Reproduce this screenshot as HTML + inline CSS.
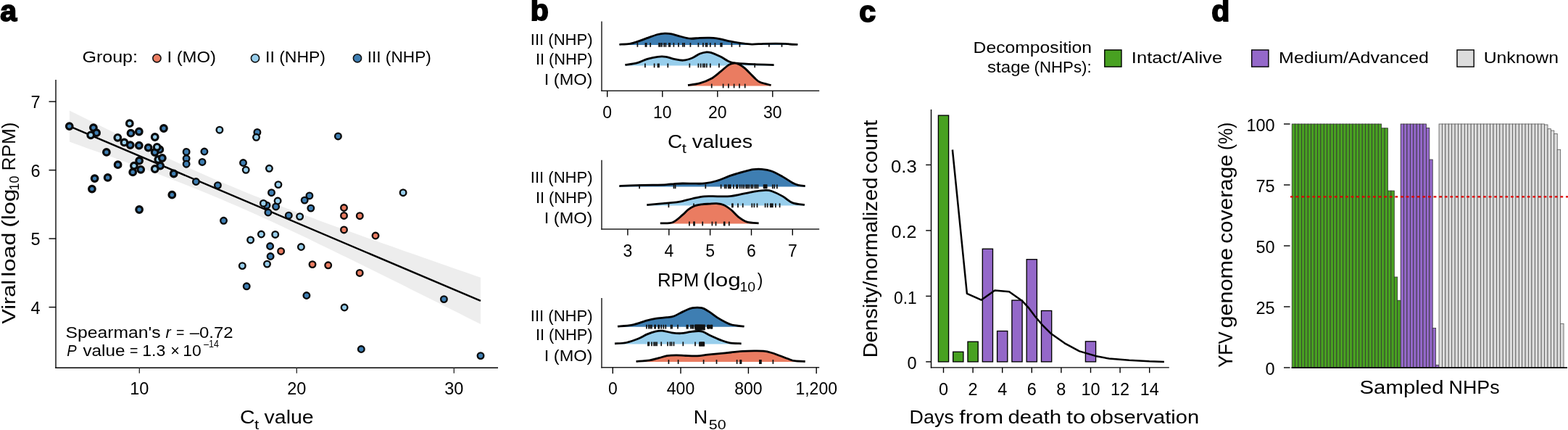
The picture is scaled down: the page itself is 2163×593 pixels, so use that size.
<!DOCTYPE html>
<html><head><meta charset="utf-8"><style>
html,body{margin:0;padding:0;background:#fff;width:2163px;height:593px;overflow:hidden}
svg{display:block}
text{font-family:"Liberation Sans", Arial, sans-serif;fill:#000}
</style></head><body>
<svg width="2163" height="593" viewBox="0 0 2163 593">
<text x="0.3" y="29.2" font-size="41" text-anchor="start" font-weight="bold" stroke="#000" stroke-width="1.9">a</text>
<text x="731.8" y="28.2" font-size="41" text-anchor="start" font-weight="bold" stroke="#000" stroke-width="1.9">b</text>
<text x="1185.2" y="29.8" font-size="41" text-anchor="start" font-weight="bold" stroke="#000" stroke-width="1.9">c</text>
<text x="1671.2" y="28.9" font-size="41" text-anchor="start" font-weight="bold" stroke="#000" stroke-width="1.9">d</text>
<text x="113.4" y="86.0" font-size="22.5" textLength="76.6" lengthAdjust="spacingAndGlyphs">Group:</text>
<circle cx="216.4" cy="80.3" r="5.6" fill="#ea7c61" stroke="#111" stroke-width="1.6"/>
<text x="230.4" y="86.0" font-size="22.5" textLength="67.5" lengthAdjust="spacingAndGlyphs">I (MO)</text>
<circle cx="352" cy="80.3" r="5.6" fill="#97ceec" stroke="#111" stroke-width="1.6"/>
<text x="366.0" y="86.0" font-size="22.5" textLength="83.0" lengthAdjust="spacingAndGlyphs">II (NHP)</text>
<circle cx="493" cy="80.3" r="5.6" fill="#3e7eb2" stroke="#111" stroke-width="1.6"/>
<text x="506.7" y="86.0" font-size="22.5" textLength="88.1" lengthAdjust="spacingAndGlyphs">III (NHP)</text>
<line x1="77.0" y1="110.0" x2="77.0" y2="507.8" stroke="#333" stroke-width="1.7" />
<line x1="76.2" y1="507.2" x2="687.0" y2="507.2" stroke="#000" stroke-width="1.4" />
<line x1="67.5" y1="423.6" x2="77.2" y2="423.6" stroke="#000" stroke-width="1.4" />
<text x="55.6" y="432.5" font-size="23.5" text-anchor="end" >4</text>
<line x1="67.5" y1="329.1" x2="77.2" y2="329.1" stroke="#000" stroke-width="1.4" />
<text x="55.6" y="338.0" font-size="23.5" text-anchor="end" >5</text>
<line x1="67.5" y1="234.6" x2="77.2" y2="234.6" stroke="#000" stroke-width="1.4" />
<text x="55.6" y="243.5" font-size="23.5" text-anchor="end" >6</text>
<line x1="67.5" y1="140.1" x2="77.2" y2="140.1" stroke="#000" stroke-width="1.4" />
<text x="55.6" y="149.0" font-size="23.5" text-anchor="end" >7</text>
<line x1="192.3" y1="507.2" x2="192.3" y2="514.7" stroke="#333" stroke-width="1.4" />
<text x="192.3" y="544.3" font-size="23.5" text-anchor="middle" >10</text>
<line x1="409.3" y1="507.2" x2="409.3" y2="514.7" stroke="#333" stroke-width="1.4" />
<text x="409.3" y="544.3" font-size="23.5" text-anchor="middle" >20</text>
<line x1="626.3" y1="507.2" x2="626.3" y2="514.7" stroke="#333" stroke-width="1.4" />
<text x="626.3" y="544.3" font-size="23.5" text-anchor="middle" >30</text>
<text x="-446.8" y="21.2" font-size="26.5" transform="rotate(-90)" textLength="61.0" lengthAdjust="spacingAndGlyphs">Viral</text>
<text x="-381.8" y="21.2" font-size="26.5" transform="rotate(-90)" textLength="61.3" lengthAdjust="spacingAndGlyphs">load</text>
<text x="-313.8" y="21.2" font-size="26.5" transform="rotate(-90)" textLength="53.2" lengthAdjust="spacingAndGlyphs">(log</text>
<text x="-262.4" y="26.0" font-size="18" transform="rotate(-90)" textLength="19.9" lengthAdjust="spacingAndGlyphs">10</text>
<text x="-235.6" y="21.2" font-size="26.5" transform="rotate(-90)" textLength="67.1" lengthAdjust="spacingAndGlyphs">RPM)</text>
<text x="330.9" y="584.0" font-size="26.5" textLength="20.6" lengthAdjust="spacingAndGlyphs">C</text>
<text x="351.0" y="591.6" font-size="18" textLength="6.3" lengthAdjust="spacingAndGlyphs">t</text>
<text x="364.6" y="583.8" font-size="26.5" textLength="68.0" lengthAdjust="spacingAndGlyphs">value</text>
<path d="M95.9,152.6 L105.5,157.3 L115.1,162.1 L124.7,166.8 L134.3,171.5 L144.0,176.2 L153.6,180.9 L163.2,185.6 L172.8,190.3 L182.4,194.9 L192.0,199.5 L201.6,204.1 L211.2,208.7 L220.9,213.2 L230.5,217.7 L240.1,222.1 L249.7,226.5 L259.3,230.9 L268.9,235.2 L278.5,239.5 L288.1,243.7 L297.7,247.9 L307.4,252.0 L317.0,256.1 L326.6,260.1 L336.2,264.0 L345.8,267.9 L355.4,271.8 L365.0,275.6 L374.6,279.4 L384.3,283.1 L393.9,286.7 L403.5,290.4 L413.1,294.0 L422.7,297.6 L432.3,301.1 L441.9,304.7 L451.5,308.2 L461.2,311.7 L470.8,315.2 L480.4,318.6 L490.0,322.1 L499.6,325.5 L509.2,328.9 L518.8,332.3 L528.4,335.7 L538.0,339.1 L547.7,342.5 L557.3,345.9 L566.9,349.3 L576.5,352.6 L586.1,356.0 L595.7,359.3 L605.3,362.7 L614.9,366.0 L624.6,369.4 L634.2,372.7 L643.8,376.0 L653.4,379.4 L663.0,382.7 L663.0,447.1 L653.4,442.3 L643.8,437.4 L634.2,432.6 L624.6,427.8 L614.9,423.0 L605.3,418.1 L595.7,413.3 L586.1,408.5 L576.5,403.7 L566.9,398.9 L557.3,394.1 L547.7,389.3 L538.0,384.6 L528.4,379.8 L518.8,375.0 L509.2,370.3 L499.6,365.5 L490.0,360.8 L480.4,356.1 L470.8,351.4 L461.2,346.7 L451.5,342.0 L441.9,337.4 L432.3,332.8 L422.7,328.1 L413.1,323.6 L403.5,319.0 L393.9,314.5 L384.3,310.0 L374.6,305.6 L365.0,301.2 L355.4,296.8 L345.8,292.5 L336.2,288.2 L326.6,284.0 L317.0,279.9 L307.4,275.7 L297.7,271.7 L288.1,267.7 L278.5,263.8 L268.9,259.9 L259.3,256.0 L249.7,252.3 L240.1,248.5 L230.5,244.8 L220.9,241.1 L211.2,237.5 L201.6,233.9 L192.0,230.3 L182.4,226.8 L172.8,223.2 L163.2,219.7 L153.6,216.2 L144.0,212.8 L134.3,209.3 L124.7,205.9 L115.1,202.4 L105.5,199.0 L95.9,195.6 Z" fill="#ededed"/>
<line x1="95.9" y1="174.1" x2="663.0" y2="414.9" stroke="#000" stroke-width="2.4" />
<circle cx="95.7" cy="174.1" r="4.3" fill="#3e7eb2" stroke="#0a0a0a" stroke-width="3.2"/>
<circle cx="128.9" cy="176.1" r="4.3" fill="#3e7eb2" stroke="#0a0a0a" stroke-width="3.2"/>
<circle cx="133.1" cy="183.2" r="4.3" fill="#3e7eb2" stroke="#0a0a0a" stroke-width="3.2"/>
<circle cx="125.2" cy="186.3" r="4.3" fill="#97ceec" stroke="#0a0a0a" stroke-width="3.2"/>
<circle cx="178.8" cy="170.2" r="4.3" fill="#97ceec" stroke="#0a0a0a" stroke-width="3.2"/>
<circle cx="180.5" cy="183.7" r="4.3" fill="#3e7eb2" stroke="#0a0a0a" stroke-width="3.2"/>
<circle cx="191.8" cy="181.5" r="4.3" fill="#3e7eb2" stroke="#0a0a0a" stroke-width="3.2"/>
<circle cx="225.9" cy="177.0" r="4.3" fill="#3e7eb2" stroke="#0a0a0a" stroke-width="3.2"/>
<circle cx="162.3" cy="189.8" r="4.3" fill="#97ceec" stroke="#0a0a0a" stroke-width="3.2"/>
<circle cx="213.7" cy="189.0" r="4.3" fill="#97ceec" stroke="#0a0a0a" stroke-width="3.2"/>
<circle cx="171.4" cy="196.4" r="4.3" fill="#97ceec" stroke="#0a0a0a" stroke-width="3.2"/>
<circle cx="179.7" cy="200.1" r="4.3" fill="#3e7eb2" stroke="#0a0a0a" stroke-width="3.2"/>
<circle cx="191.8" cy="200.6" r="4.3" fill="#3e7eb2" stroke="#0a0a0a" stroke-width="3.2"/>
<circle cx="204.6" cy="203.6" r="4.3" fill="#3e7eb2" stroke="#0a0a0a" stroke-width="3.2"/>
<circle cx="220.3" cy="206.2" r="4.3" fill="#3e7eb2" stroke="#0a0a0a" stroke-width="3.2"/>
<circle cx="213.6" cy="210.0" r="4.3" fill="#3e7eb2" stroke="#0a0a0a" stroke-width="3.2"/>
<circle cx="216.6" cy="202.8" r="4.3" fill="#97ceec" stroke="#0a0a0a" stroke-width="3.2"/>
<circle cx="146.9" cy="209.9" r="4.3" fill="#3e7eb2" stroke="#0a0a0a" stroke-width="3.2"/>
<circle cx="218.3" cy="220.0" r="4.3" fill="#97ceec" stroke="#0a0a0a" stroke-width="3.2"/>
<circle cx="223.8" cy="218.0" r="4.3" fill="#3e7eb2" stroke="#0a0a0a" stroke-width="3.2"/>
<circle cx="192.1" cy="221.7" r="4.3" fill="#3e7eb2" stroke="#0a0a0a" stroke-width="3.2"/>
<circle cx="162.6" cy="227.2" r="4.3" fill="#3e7eb2" stroke="#0a0a0a" stroke-width="3.2"/>
<circle cx="184.9" cy="228.6" r="4.3" fill="#97ceec" stroke="#0a0a0a" stroke-width="3.2"/>
<circle cx="194.2" cy="233.8" r="4.3" fill="#3e7eb2" stroke="#0a0a0a" stroke-width="3.2"/>
<circle cx="183.2" cy="237.4" r="4.3" fill="#3e7eb2" stroke="#0a0a0a" stroke-width="3.2"/>
<circle cx="221.1" cy="228.6" r="4.3" fill="#3e7eb2" stroke="#0a0a0a" stroke-width="3.2"/>
<circle cx="213.7" cy="233.0" r="4.3" fill="#97ceec" stroke="#0a0a0a" stroke-width="3.2"/>
<circle cx="239.7" cy="239.5" r="4.3" fill="#3e7eb2" stroke="#0a0a0a" stroke-width="3.2"/>
<circle cx="257.1" cy="209.4" r="4.3" fill="#3e7eb2" stroke="#0a0a0a" stroke-width="2.35"/>
<circle cx="257.1" cy="218.6" r="4.3" fill="#3e7eb2" stroke="#0a0a0a" stroke-width="2.35"/>
<circle cx="257.1" cy="226.2" r="4.3" fill="#3e7eb2" stroke="#0a0a0a" stroke-width="2.35"/>
<circle cx="281.9" cy="209.0" r="4.3" fill="#3e7eb2" stroke="#0a0a0a" stroke-width="2.35"/>
<circle cx="279.0" cy="223.4" r="4.3" fill="#3e7eb2" stroke="#0a0a0a" stroke-width="2.35"/>
<circle cx="302.9" cy="179.2" r="4.3" fill="#97ceec" stroke="#0a0a0a" stroke-width="2.35"/>
<circle cx="354.9" cy="182.4" r="4.3" fill="#3e7eb2" stroke="#0a0a0a" stroke-width="2.35"/>
<circle cx="353.5" cy="189.3" r="4.3" fill="#97ceec" stroke="#0a0a0a" stroke-width="2.35"/>
<circle cx="335.5" cy="224.5" r="4.3" fill="#3e7eb2" stroke="#0a0a0a" stroke-width="2.35"/>
<circle cx="339.2" cy="234.3" r="4.3" fill="#97ceec" stroke="#0a0a0a" stroke-width="2.35"/>
<circle cx="371.4" cy="232.3" r="4.3" fill="#97ceec" stroke="#0a0a0a" stroke-width="2.35"/>
<circle cx="130.6" cy="246.1" r="4.3" fill="#3e7eb2" stroke="#0a0a0a" stroke-width="3.2"/>
<circle cx="148.6" cy="244.9" r="4.3" fill="#3e7eb2" stroke="#0a0a0a" stroke-width="3.2"/>
<circle cx="270.4" cy="250.5" r="4.3" fill="#3e7eb2" stroke="#0a0a0a" stroke-width="2.35"/>
<circle cx="466.4" cy="187.9" r="4.3" fill="#3e7eb2" stroke="#0a0a0a" stroke-width="2.35"/>
<circle cx="126.9" cy="260.6" r="4.3" fill="#3e7eb2" stroke="#0a0a0a" stroke-width="3.2"/>
<circle cx="237.3" cy="268.7" r="4.3" fill="#3e7eb2" stroke="#0a0a0a" stroke-width="3.2"/>
<circle cx="192.1" cy="289.0" r="4.3" fill="#3e7eb2" stroke="#0a0a0a" stroke-width="3.2"/>
<circle cx="300.4" cy="255.6" r="4.3" fill="#3e7eb2" stroke="#0a0a0a" stroke-width="2.35"/>
<circle cx="308.5" cy="304.3" r="4.3" fill="#3e7eb2" stroke="#0a0a0a" stroke-width="2.35"/>
<circle cx="374.5" cy="265.7" r="4.3" fill="#3e7eb2" stroke="#0a0a0a" stroke-width="2.35"/>
<circle cx="368.0" cy="283.2" r="4.3" fill="#3e7eb2" stroke="#0a0a0a" stroke-width="2.35"/>
<circle cx="363.4" cy="280.4" r="4.3" fill="#97ceec" stroke="#0a0a0a" stroke-width="2.35"/>
<circle cx="369.9" cy="293.0" r="4.3" fill="#3e7eb2" stroke="#0a0a0a" stroke-width="2.35"/>
<circle cx="360.4" cy="323.0" r="4.3" fill="#97ceec" stroke="#0a0a0a" stroke-width="2.35"/>
<circle cx="345.6" cy="330.9" r="4.3" fill="#97ceec" stroke="#0a0a0a" stroke-width="2.35"/>
<circle cx="372.6" cy="339.5" r="4.3" fill="#3e7eb2" stroke="#0a0a0a" stroke-width="2.35"/>
<circle cx="383.9" cy="254.6" r="4.3" fill="#97ceec" stroke="#0a0a0a" stroke-width="2.35"/>
<circle cx="380.6" cy="284.9" r="4.3" fill="#3e7eb2" stroke="#0a0a0a" stroke-width="2.35"/>
<circle cx="383.1" cy="277.0" r="4.3" fill="#97ceec" stroke="#0a0a0a" stroke-width="2.35"/>
<circle cx="426.9" cy="269.9" r="4.3" fill="#3e7eb2" stroke="#0a0a0a" stroke-width="2.35"/>
<circle cx="420.2" cy="276.1" r="4.3" fill="#3e7eb2" stroke="#0a0a0a" stroke-width="2.35"/>
<circle cx="428.8" cy="287.1" r="4.3" fill="#3e7eb2" stroke="#0a0a0a" stroke-width="2.35"/>
<circle cx="398.3" cy="297.2" r="4.3" fill="#3e7eb2" stroke="#0a0a0a" stroke-width="2.35"/>
<circle cx="413.6" cy="298.6" r="4.3" fill="#97ceec" stroke="#0a0a0a" stroke-width="2.35"/>
<circle cx="556.1" cy="265.7" r="4.3" fill="#97ceec" stroke="#0a0a0a" stroke-width="2.35"/>
<circle cx="474.5" cy="286.5" r="4.3" fill="#ea7c61" stroke="#0a0a0a" stroke-width="2.35"/>
<circle cx="474.5" cy="297.4" r="4.3" fill="#ea7c61" stroke="#0a0a0a" stroke-width="2.35"/>
<circle cx="496.3" cy="297.7" r="4.3" fill="#ea7c61" stroke="#0a0a0a" stroke-width="2.35"/>
<circle cx="474.5" cy="316.9" r="4.3" fill="#ea7c61" stroke="#0a0a0a" stroke-width="2.35"/>
<circle cx="518.0" cy="325.0" r="4.3" fill="#ea7c61" stroke="#0a0a0a" stroke-width="2.35"/>
<circle cx="379.7" cy="323.4" r="4.3" fill="#97ceec" stroke="#0a0a0a" stroke-width="2.35"/>
<circle cx="415.4" cy="340.5" r="4.3" fill="#97ceec" stroke="#0a0a0a" stroke-width="2.35"/>
<circle cx="387.6" cy="346.4" r="4.3" fill="#ea7c61" stroke="#0a0a0a" stroke-width="2.35"/>
<circle cx="373.1" cy="353.5" r="4.3" fill="#3e7eb2" stroke="#0a0a0a" stroke-width="2.35"/>
<circle cx="368.5" cy="364.1" r="4.3" fill="#97ceec" stroke="#0a0a0a" stroke-width="2.35"/>
<circle cx="334.3" cy="366.6" r="4.3" fill="#97ceec" stroke="#0a0a0a" stroke-width="2.35"/>
<circle cx="431.0" cy="364.6" r="4.3" fill="#ea7c61" stroke="#0a0a0a" stroke-width="2.35"/>
<circle cx="452.7" cy="365.8" r="4.3" fill="#ea7c61" stroke="#0a0a0a" stroke-width="2.35"/>
<circle cx="496.2" cy="376.4" r="4.3" fill="#ea7c61" stroke="#0a0a0a" stroke-width="2.35"/>
<circle cx="340.2" cy="394.8" r="4.3" fill="#3e7eb2" stroke="#0a0a0a" stroke-width="2.35"/>
<circle cx="422.9" cy="407.5" r="4.3" fill="#3e7eb2" stroke="#0a0a0a" stroke-width="2.35"/>
<circle cx="475.1" cy="424.0" r="4.3" fill="#97ceec" stroke="#0a0a0a" stroke-width="2.35"/>
<circle cx="612.4" cy="412.6" r="4.3" fill="#3e7eb2" stroke="#0a0a0a" stroke-width="2.35"/>
<circle cx="498.3" cy="481.5" r="4.3" fill="#3e7eb2" stroke="#0a0a0a" stroke-width="2.35"/>
<circle cx="663.0" cy="490.6" r="4.3" fill="#3e7eb2" stroke="#0a0a0a" stroke-width="2.35"/>
<text x="90.6" y="465.6" font-size="22" textLength="130.9" lengthAdjust="spacingAndGlyphs">Spearman's</text>
<text x="228.4" y="465.6" font-size="22" font-style="italic" textLength="7.2" lengthAdjust="spacingAndGlyphs">r</text>
<text x="242.9" y="465.6" font-size="22" textLength="11.4" lengthAdjust="spacingAndGlyphs">=</text>
<text x="261.7" y="465.6" font-size="22" textLength="59.9" lengthAdjust="spacingAndGlyphs">–0.72</text>
<text x="92.2" y="490.6" font-size="22" font-style="italic" textLength="13.4" lengthAdjust="spacingAndGlyphs">P</text>
<text x="114.4" y="490.6" font-size="22" textLength="58.0" lengthAdjust="spacingAndGlyphs">value</text>
<text x="179.1" y="490.6" font-size="22" textLength="11.4" lengthAdjust="spacingAndGlyphs">=</text>
<text x="196.2" y="490.6" font-size="22" textLength="32.0" lengthAdjust="spacingAndGlyphs">1.3</text>
<text x="235.2" y="490.6" font-size="22" textLength="12.6" lengthAdjust="spacingAndGlyphs">×</text>
<text x="252.2" y="490.6" font-size="22" textLength="25.4" lengthAdjust="spacingAndGlyphs">10</text>
<text x="281.1" y="479.3" font-size="14.5" textLength="20.8" lengthAdjust="spacingAndGlyphs">–14</text>
<line x1="830.0" y1="29.6" x2="830.0" y2="125.9" stroke="#222" stroke-width="1.5" />
<line x1="829.3" y1="125.2" x2="1130.2" y2="125.2" stroke="#222" stroke-width="1.5" />
<line x1="837.7" y1="125.2" x2="837.7" y2="133.7" stroke="#000" stroke-width="1.4" />
<text x="837.7" y="163.4" font-size="23" text-anchor="middle" >0</text>
<line x1="913.8" y1="125.2" x2="913.8" y2="133.7" stroke="#000" stroke-width="1.4" />
<text x="913.8" y="163.4" font-size="23" text-anchor="middle" >10</text>
<line x1="989.8" y1="125.2" x2="989.8" y2="133.7" stroke="#000" stroke-width="1.4" />
<text x="989.8" y="163.4" font-size="23" text-anchor="middle" >20</text>
<line x1="1065.8" y1="125.2" x2="1065.8" y2="133.7" stroke="#000" stroke-width="1.4" />
<text x="1065.8" y="163.4" font-size="23" text-anchor="middle" >30</text>
<text x="731.8" y="61.8" font-size="22" textLength="85.8" lengthAdjust="spacingAndGlyphs">III (NHP)</text>
<text x="738.9" y="89.3" font-size="22" textLength="78.6" lengthAdjust="spacingAndGlyphs">II (NHP)</text>
<text x="750.8" y="117.2" font-size="22" textLength="66.5" lengthAdjust="spacingAndGlyphs">I (MO)</text>
<path d="M854.40,61.30 C856.80,61.15 864.52,61.08 868.80,60.40 C873.08,59.72 876.08,58.53 880.10,57.20 C884.12,55.87 888.37,54.02 892.90,52.40 C897.43,50.78 903.30,48.53 907.30,47.50 C911.30,46.47 913.70,46.30 916.90,46.20 C920.10,46.10 922.75,46.18 926.50,46.90 C930.25,47.62 935.12,49.45 939.40,50.50 C943.68,51.55 947.93,52.90 952.20,53.20 C956.47,53.50 961.03,52.48 965.00,52.30 C968.97,52.12 972.80,52.10 976.00,52.10 C979.20,52.10 981.23,52.00 984.20,52.30 C987.17,52.60 989.78,53.08 993.80,53.90 C997.82,54.72 1003.48,56.25 1008.30,57.20 C1013.12,58.15 1017.90,58.95 1022.70,59.60 C1027.50,60.25 1032.03,60.98 1037.10,61.10 C1042.17,61.22 1047.62,60.47 1053.10,60.30 C1058.58,60.13 1064.92,60.10 1070.00,60.10 C1075.08,60.10 1080.27,60.15 1083.60,60.30 C1086.93,60.45 1087.20,60.82 1090.00,61.00 C1092.80,61.18 1098.67,61.33 1100.40,61.40 L1100.40,62.00 L854.40,62.00 Z" fill="#3e7eb2"/>
<line x1="879.4" y1="59.0" x2="879.4" y2="64.8" stroke="#111" stroke-width="1.7" />
<line x1="890.4" y1="59.0" x2="890.4" y2="64.8" stroke="#111" stroke-width="1.7" />
<line x1="891.7" y1="59.0" x2="891.7" y2="64.8" stroke="#111" stroke-width="1.7" />
<line x1="897.2" y1="59.0" x2="897.2" y2="64.8" stroke="#111" stroke-width="1.7" />
<line x1="909.0" y1="59.0" x2="909.0" y2="64.8" stroke="#111" stroke-width="1.7" />
<line x1="910.7" y1="59.0" x2="910.7" y2="64.8" stroke="#111" stroke-width="1.7" />
<line x1="912.9" y1="59.0" x2="912.9" y2="64.8" stroke="#111" stroke-width="1.7" />
<line x1="916.2" y1="59.0" x2="916.2" y2="64.8" stroke="#111" stroke-width="1.7" />
<line x1="918.4" y1="59.0" x2="918.4" y2="64.8" stroke="#111" stroke-width="1.7" />
<line x1="922.8" y1="59.0" x2="922.8" y2="64.8" stroke="#111" stroke-width="1.7" />
<line x1="924.3" y1="59.0" x2="924.3" y2="64.8" stroke="#111" stroke-width="1.7" />
<line x1="929.4" y1="59.0" x2="929.4" y2="64.8" stroke="#111" stroke-width="1.7" />
<line x1="936.0" y1="59.0" x2="936.0" y2="64.8" stroke="#111" stroke-width="1.7" />
<line x1="941.9" y1="59.0" x2="941.9" y2="64.8" stroke="#111" stroke-width="1.7" />
<line x1="944.1" y1="59.0" x2="944.1" y2="64.8" stroke="#111" stroke-width="1.7" />
<line x1="952.4" y1="59.0" x2="952.4" y2="64.8" stroke="#111" stroke-width="1.7" />
<line x1="963.4" y1="59.0" x2="963.4" y2="64.8" stroke="#111" stroke-width="1.7" />
<line x1="969.9" y1="59.0" x2="969.9" y2="64.8" stroke="#111" stroke-width="1.7" />
<line x1="973.7" y1="59.0" x2="973.7" y2="64.8" stroke="#111" stroke-width="1.7" />
<line x1="975.4" y1="59.0" x2="975.4" y2="64.8" stroke="#111" stroke-width="1.7" />
<line x1="979.8" y1="59.0" x2="979.8" y2="64.8" stroke="#111" stroke-width="1.7" />
<line x1="986.4" y1="59.0" x2="986.4" y2="64.8" stroke="#111" stroke-width="1.7" />
<line x1="994.1" y1="59.0" x2="994.1" y2="64.8" stroke="#111" stroke-width="1.7" />
<line x1="995.8" y1="59.0" x2="995.8" y2="64.8" stroke="#111" stroke-width="1.7" />
<line x1="1009.4" y1="59.0" x2="1009.4" y2="64.8" stroke="#111" stroke-width="1.7" />
<line x1="1020.4" y1="59.0" x2="1020.4" y2="64.8" stroke="#111" stroke-width="1.7" />
<line x1="1060.9" y1="59.0" x2="1060.9" y2="64.8" stroke="#111" stroke-width="1.7" />
<line x1="1078.5" y1="59.0" x2="1078.5" y2="64.8" stroke="#111" stroke-width="1.7" />
<path d="M854.40,61.30 C856.80,61.15 864.52,61.08 868.80,60.40 C873.08,59.72 876.08,58.53 880.10,57.20 C884.12,55.87 888.37,54.02 892.90,52.40 C897.43,50.78 903.30,48.53 907.30,47.50 C911.30,46.47 913.70,46.30 916.90,46.20 C920.10,46.10 922.75,46.18 926.50,46.90 C930.25,47.62 935.12,49.45 939.40,50.50 C943.68,51.55 947.93,52.90 952.20,53.20 C956.47,53.50 961.03,52.48 965.00,52.30 C968.97,52.12 972.80,52.10 976.00,52.10 C979.20,52.10 981.23,52.00 984.20,52.30 C987.17,52.60 989.78,53.08 993.80,53.90 C997.82,54.72 1003.48,56.25 1008.30,57.20 C1013.12,58.15 1017.90,58.95 1022.70,59.60 C1027.50,60.25 1032.03,60.98 1037.10,61.10 C1042.17,61.22 1047.62,60.47 1053.10,60.30 C1058.58,60.13 1064.92,60.10 1070.00,60.10 C1075.08,60.10 1080.27,60.15 1083.60,60.30 C1086.93,60.45 1087.20,60.82 1090.00,61.00 C1092.80,61.18 1098.67,61.33 1100.40,61.40" fill="none" stroke="#000" stroke-width="2.8" stroke-linejoin="round" stroke-linecap="butt"/>
<path d="M862.40,89.50 C865.08,89.07 873.42,88.27 878.50,86.90 C883.58,85.53 888.10,82.73 892.90,81.30 C897.70,79.87 903.03,78.80 907.30,78.30 C911.57,77.80 914.77,77.80 918.50,78.30 C922.23,78.80 925.68,80.48 929.70,81.30 C933.72,82.12 938.32,83.47 942.60,83.20 C946.88,82.93 951.67,81.18 955.40,79.70 C959.13,78.22 961.80,75.60 965.00,74.30 C968.20,73.00 971.93,72.17 974.60,71.90 C977.27,71.63 977.80,71.67 981.00,72.70 C984.20,73.73 989.52,76.00 993.80,78.10 C998.08,80.20 1002.95,83.80 1006.70,85.30 C1010.45,86.80 1010.70,86.53 1016.30,87.10 C1021.90,87.67 1031.75,88.28 1040.30,88.70 C1048.85,89.12 1063.05,89.45 1067.60,89.60 L1067.60,90.50 L862.40,90.50 Z" fill="#97ceec"/>
<line x1="889.9" y1="87.5" x2="889.9" y2="93.3" stroke="#111" stroke-width="1.7" />
<line x1="902.6" y1="87.5" x2="902.6" y2="93.3" stroke="#111" stroke-width="1.7" />
<line x1="907.5" y1="87.5" x2="907.5" y2="93.3" stroke="#111" stroke-width="1.7" />
<line x1="909.0" y1="87.5" x2="909.0" y2="93.3" stroke="#111" stroke-width="1.7" />
<line x1="921.3" y1="87.5" x2="921.3" y2="93.3" stroke="#111" stroke-width="1.7" />
<line x1="951.3" y1="87.5" x2="951.3" y2="93.3" stroke="#111" stroke-width="1.7" />
<line x1="963.4" y1="87.5" x2="963.4" y2="93.3" stroke="#111" stroke-width="1.7" />
<line x1="966.7" y1="87.5" x2="966.7" y2="93.3" stroke="#111" stroke-width="1.7" />
<line x1="969.9" y1="87.5" x2="969.9" y2="93.3" stroke="#111" stroke-width="1.7" />
<line x1="972.1" y1="87.5" x2="972.1" y2="93.3" stroke="#111" stroke-width="1.7" />
<line x1="974.8" y1="87.5" x2="974.8" y2="93.3" stroke="#111" stroke-width="1.7" />
<line x1="979.8" y1="87.5" x2="979.8" y2="93.3" stroke="#111" stroke-width="1.7" />
<line x1="991.9" y1="87.5" x2="991.9" y2="93.3" stroke="#111" stroke-width="1.7" />
<line x1="1041.2" y1="87.5" x2="1041.2" y2="93.3" stroke="#111" stroke-width="1.7" />
<path d="M862.40,89.50 C865.08,89.07 873.42,88.27 878.50,86.90 C883.58,85.53 888.10,82.73 892.90,81.30 C897.70,79.87 903.03,78.80 907.30,78.30 C911.57,77.80 914.77,77.80 918.50,78.30 C922.23,78.80 925.68,80.48 929.70,81.30 C933.72,82.12 938.32,83.47 942.60,83.20 C946.88,82.93 951.67,81.18 955.40,79.70 C959.13,78.22 961.80,75.60 965.00,74.30 C968.20,73.00 971.93,72.17 974.60,71.90 C977.27,71.63 977.80,71.67 981.00,72.70 C984.20,73.73 989.52,76.00 993.80,78.10 C998.08,80.20 1002.95,83.80 1006.70,85.30 C1010.45,86.80 1010.70,86.53 1016.30,87.10 C1021.90,87.67 1031.75,88.28 1040.30,88.70 C1048.85,89.12 1063.05,89.45 1067.60,89.60" fill="none" stroke="#000" stroke-width="2.8" stroke-linejoin="round" stroke-linecap="butt"/>
<path d="M949.00,117.50 C951.67,117.07 959.67,116.40 965.00,114.90 C970.33,113.40 976.20,111.17 981.00,108.50 C985.80,105.83 989.78,102.05 993.80,98.90 C997.82,95.75 1001.88,91.55 1005.10,89.60 C1008.32,87.65 1010.70,87.35 1013.10,87.20 C1015.50,87.05 1017.10,87.55 1019.50,88.70 C1021.90,89.85 1024.03,91.07 1027.50,94.10 C1030.97,97.13 1036.83,103.70 1040.30,106.90 C1043.77,110.10 1044.42,111.53 1048.30,113.30 C1052.18,115.07 1061.05,116.80 1063.60,117.50 L1063.60,118.60 L949.00,118.60 Z" fill="#ea7c61"/>
<line x1="981.7" y1="115.6" x2="981.7" y2="121.4" stroke="#111" stroke-width="1.7" />
<line x1="997.6" y1="115.6" x2="997.6" y2="121.4" stroke="#111" stroke-width="1.7" />
<line x1="1004.9" y1="115.6" x2="1004.9" y2="121.4" stroke="#111" stroke-width="1.7" />
<line x1="1012.6" y1="115.6" x2="1012.6" y2="121.4" stroke="#111" stroke-width="1.7" />
<line x1="1020.0" y1="115.6" x2="1020.0" y2="121.4" stroke="#111" stroke-width="1.7" />
<line x1="1027.7" y1="115.6" x2="1027.7" y2="121.4" stroke="#111" stroke-width="1.7" />
<path d="M949.00,117.50 C951.67,117.07 959.67,116.40 965.00,114.90 C970.33,113.40 976.20,111.17 981.00,108.50 C985.80,105.83 989.78,102.05 993.80,98.90 C997.82,95.75 1001.88,91.55 1005.10,89.60 C1008.32,87.65 1010.70,87.35 1013.10,87.20 C1015.50,87.05 1017.10,87.55 1019.50,88.70 C1021.90,89.85 1024.03,91.07 1027.50,94.10 C1030.97,97.13 1036.83,103.70 1040.30,106.90 C1043.77,110.10 1044.42,111.53 1048.30,113.30 C1052.18,115.07 1061.05,116.80 1063.60,117.50" fill="none" stroke="#000" stroke-width="2.8" stroke-linejoin="round" stroke-linecap="butt"/>
<text x="921.0" y="204.0" font-size="26" textLength="20.2" lengthAdjust="spacingAndGlyphs">C</text>
<text x="940.8" y="211.4" font-size="18" textLength="6.1" lengthAdjust="spacingAndGlyphs">t</text>
<text x="954.8" y="203.8" font-size="26" textLength="83.3" lengthAdjust="spacingAndGlyphs">values</text>
<line x1="830.0" y1="220.7" x2="830.0" y2="316.8" stroke="#222" stroke-width="1.5" />
<line x1="829.3" y1="316.1" x2="1130.2" y2="316.1" stroke="#222" stroke-width="1.5" />
<line x1="865.9" y1="316.1" x2="865.9" y2="324.6" stroke="#000" stroke-width="1.4" />
<text x="865.9" y="354.2" font-size="23" text-anchor="middle" >3</text>
<line x1="922.8" y1="316.1" x2="922.8" y2="324.6" stroke="#000" stroke-width="1.4" />
<text x="922.8" y="354.2" font-size="23" text-anchor="middle" >4</text>
<line x1="979.6" y1="316.1" x2="979.6" y2="324.6" stroke="#000" stroke-width="1.4" />
<text x="979.6" y="354.2" font-size="23" text-anchor="middle" >5</text>
<line x1="1036.5" y1="316.1" x2="1036.5" y2="324.6" stroke="#000" stroke-width="1.4" />
<text x="1036.5" y="354.2" font-size="23" text-anchor="middle" >6</text>
<line x1="1093.3" y1="316.1" x2="1093.3" y2="324.6" stroke="#000" stroke-width="1.4" />
<text x="1093.3" y="354.2" font-size="23" text-anchor="middle" >7</text>
<text x="731.8" y="251.8" font-size="22" textLength="85.8" lengthAdjust="spacingAndGlyphs">III (NHP)</text>
<text x="738.9" y="279.5" font-size="22" textLength="78.6" lengthAdjust="spacingAndGlyphs">II (NHP)</text>
<text x="750.8" y="308.1" font-size="22" textLength="66.5" lengthAdjust="spacingAndGlyphs">I (MO)</text>
<path d="M854.30,256.60 C856.70,256.47 861.08,256.03 868.70,255.80 C876.32,255.57 891.57,255.40 900.00,255.20 C908.43,255.00 914.30,254.87 919.30,254.60 C924.30,254.33 926.35,253.87 930.00,253.60 C933.65,253.33 936.20,253.07 941.20,253.00 C946.20,252.93 954.93,253.22 960.00,253.20 C965.07,253.18 966.87,253.52 971.60,252.90 C976.33,252.28 982.22,251.33 988.40,249.50 C994.58,247.67 1002.52,244.00 1008.70,241.90 C1014.88,239.80 1020.45,238.27 1025.50,236.90 C1030.55,235.53 1034.78,234.28 1039.00,233.70 C1043.22,233.12 1046.58,233.02 1050.80,233.40 C1055.02,233.78 1059.52,234.30 1064.30,236.00 C1069.08,237.70 1074.72,240.93 1079.50,243.60 C1084.28,246.27 1089.35,250.03 1093.00,252.00 C1096.65,253.97 1098.45,254.63 1101.40,255.40 C1104.35,256.17 1109.15,256.40 1110.70,256.60 L1110.70,257.40 L854.30,257.40 Z" fill="#3e7eb2"/>
<line x1="882.1" y1="254.4" x2="882.1" y2="260.2" stroke="#111" stroke-width="1.7" />
<line x1="929.5" y1="254.4" x2="929.5" y2="260.2" stroke="#111" stroke-width="1.7" />
<line x1="931.6" y1="254.4" x2="931.6" y2="260.2" stroke="#111" stroke-width="1.7" />
<line x1="973.3" y1="254.4" x2="973.3" y2="260.2" stroke="#111" stroke-width="1.7" />
<line x1="994.6" y1="254.4" x2="994.6" y2="260.2" stroke="#111" stroke-width="1.7" />
<line x1="999.7" y1="254.4" x2="999.7" y2="260.2" stroke="#111" stroke-width="1.7" />
<line x1="1001.7" y1="254.4" x2="1001.7" y2="260.2" stroke="#111" stroke-width="1.7" />
<line x1="1004.8" y1="254.4" x2="1004.8" y2="260.2" stroke="#111" stroke-width="1.7" />
<line x1="1006.4" y1="254.4" x2="1006.4" y2="260.2" stroke="#111" stroke-width="1.7" />
<line x1="1007.8" y1="254.4" x2="1007.8" y2="260.2" stroke="#111" stroke-width="1.7" />
<line x1="1011.9" y1="254.4" x2="1011.9" y2="260.2" stroke="#111" stroke-width="1.7" />
<line x1="1016.0" y1="254.4" x2="1016.0" y2="260.2" stroke="#111" stroke-width="1.7" />
<line x1="1017.4" y1="254.4" x2="1017.4" y2="260.2" stroke="#111" stroke-width="1.7" />
<line x1="1020.7" y1="254.4" x2="1020.7" y2="260.2" stroke="#111" stroke-width="1.7" />
<line x1="1023.5" y1="254.4" x2="1023.5" y2="260.2" stroke="#111" stroke-width="1.7" />
<line x1="1026.1" y1="254.4" x2="1026.1" y2="260.2" stroke="#111" stroke-width="1.7" />
<line x1="1029.2" y1="254.4" x2="1029.2" y2="260.2" stroke="#111" stroke-width="1.7" />
<line x1="1031.2" y1="254.4" x2="1031.2" y2="260.2" stroke="#111" stroke-width="1.7" />
<line x1="1033.3" y1="254.4" x2="1033.3" y2="260.2" stroke="#111" stroke-width="1.7" />
<line x1="1036.3" y1="254.4" x2="1036.3" y2="260.2" stroke="#111" stroke-width="1.7" />
<line x1="1038.3" y1="254.4" x2="1038.3" y2="260.2" stroke="#111" stroke-width="1.7" />
<line x1="1041.4" y1="254.4" x2="1041.4" y2="260.2" stroke="#111" stroke-width="1.7" />
<line x1="1043.4" y1="254.4" x2="1043.4" y2="260.2" stroke="#111" stroke-width="1.7" />
<line x1="1045.5" y1="254.4" x2="1045.5" y2="260.2" stroke="#111" stroke-width="1.7" />
<line x1="1053.6" y1="254.4" x2="1053.6" y2="260.2" stroke="#111" stroke-width="1.7" />
<line x1="1054.6" y1="254.4" x2="1054.6" y2="260.2" stroke="#111" stroke-width="1.7" />
<line x1="1055.6" y1="254.4" x2="1055.6" y2="260.2" stroke="#111" stroke-width="1.7" />
<line x1="1056.7" y1="254.4" x2="1056.7" y2="260.2" stroke="#111" stroke-width="1.7" />
<line x1="1057.7" y1="254.4" x2="1057.7" y2="260.2" stroke="#111" stroke-width="1.7" />
<line x1="1065.8" y1="254.4" x2="1065.8" y2="260.2" stroke="#111" stroke-width="1.7" />
<line x1="1068.3" y1="254.4" x2="1068.3" y2="260.2" stroke="#111" stroke-width="1.7" />
<line x1="1071.9" y1="254.4" x2="1071.9" y2="260.2" stroke="#111" stroke-width="1.7" />
<path d="M854.30,256.60 C856.70,256.47 861.08,256.03 868.70,255.80 C876.32,255.57 891.57,255.40 900.00,255.20 C908.43,255.00 914.30,254.87 919.30,254.60 C924.30,254.33 926.35,253.87 930.00,253.60 C933.65,253.33 936.20,253.07 941.20,253.00 C946.20,252.93 954.93,253.22 960.00,253.20 C965.07,253.18 966.87,253.52 971.60,252.90 C976.33,252.28 982.22,251.33 988.40,249.50 C994.58,247.67 1002.52,244.00 1008.70,241.90 C1014.88,239.80 1020.45,238.27 1025.50,236.90 C1030.55,235.53 1034.78,234.28 1039.00,233.70 C1043.22,233.12 1046.58,233.02 1050.80,233.40 C1055.02,233.78 1059.52,234.30 1064.30,236.00 C1069.08,237.70 1074.72,240.93 1079.50,243.60 C1084.28,246.27 1089.35,250.03 1093.00,252.00 C1096.65,253.97 1098.45,254.63 1101.40,255.40 C1104.35,256.17 1109.15,256.40 1110.70,256.60" fill="none" stroke="#000" stroke-width="2.8" stroke-linejoin="round" stroke-linecap="butt"/>
<path d="M892.30,282.60 C897.35,282.15 915.02,280.63 922.60,279.90 C930.18,279.17 932.45,279.18 937.80,278.20 C943.15,277.22 949.07,275.23 954.70,274.00 C960.33,272.77 965.72,271.33 971.60,270.80 C977.48,270.27 984.10,270.83 990.00,270.80 C995.90,270.77 1001.08,271.20 1007.00,270.60 C1012.92,270.00 1019.60,268.32 1025.50,267.20 C1031.40,266.08 1037.33,264.70 1042.40,263.90 C1047.47,263.10 1052.25,262.47 1055.90,262.40 C1059.55,262.33 1060.37,262.13 1064.30,263.50 C1068.23,264.87 1074.72,267.92 1079.50,270.60 C1084.28,273.28 1087.93,277.60 1093.00,279.60 C1098.07,281.60 1107.08,282.10 1109.90,282.60 L1109.90,283.40 L892.30,283.40 Z" fill="#97ceec"/>
<line x1="922.4" y1="280.4" x2="922.4" y2="286.2" stroke="#111" stroke-width="1.7" />
<line x1="957.0" y1="280.4" x2="957.0" y2="286.2" stroke="#111" stroke-width="1.7" />
<line x1="1009.9" y1="280.4" x2="1009.9" y2="286.2" stroke="#111" stroke-width="1.7" />
<line x1="1010.9" y1="280.4" x2="1010.9" y2="286.2" stroke="#111" stroke-width="1.7" />
<line x1="1018.0" y1="280.4" x2="1018.0" y2="286.2" stroke="#111" stroke-width="1.7" />
<line x1="1024.7" y1="280.4" x2="1024.7" y2="286.2" stroke="#111" stroke-width="1.7" />
<line x1="1037.3" y1="280.4" x2="1037.3" y2="286.2" stroke="#111" stroke-width="1.7" />
<line x1="1040.4" y1="280.4" x2="1040.4" y2="286.2" stroke="#111" stroke-width="1.7" />
<line x1="1044.5" y1="280.4" x2="1044.5" y2="286.2" stroke="#111" stroke-width="1.7" />
<line x1="1055.6" y1="280.4" x2="1055.6" y2="286.2" stroke="#111" stroke-width="1.7" />
<line x1="1058.7" y1="280.4" x2="1058.7" y2="286.2" stroke="#111" stroke-width="1.7" />
<line x1="1062.8" y1="280.4" x2="1062.8" y2="286.2" stroke="#111" stroke-width="1.7" />
<line x1="1064.2" y1="280.4" x2="1064.2" y2="286.2" stroke="#111" stroke-width="1.7" />
<line x1="1065.8" y1="280.4" x2="1065.8" y2="286.2" stroke="#111" stroke-width="1.7" />
<line x1="1069.9" y1="280.4" x2="1069.9" y2="286.2" stroke="#111" stroke-width="1.7" />
<line x1="1075.6" y1="280.4" x2="1075.6" y2="286.2" stroke="#111" stroke-width="1.7" />
<path d="M892.30,282.60 C897.35,282.15 915.02,280.63 922.60,279.90 C930.18,279.17 932.45,279.18 937.80,278.20 C943.15,277.22 949.07,275.23 954.70,274.00 C960.33,272.77 965.72,271.33 971.60,270.80 C977.48,270.27 984.10,270.83 990.00,270.80 C995.90,270.77 1001.08,271.20 1007.00,270.60 C1012.92,270.00 1019.60,268.32 1025.50,267.20 C1031.40,266.08 1037.33,264.70 1042.40,263.90 C1047.47,263.10 1052.25,262.47 1055.90,262.40 C1059.55,262.33 1060.37,262.13 1064.30,263.50 C1068.23,264.87 1074.72,267.92 1079.50,270.60 C1084.28,273.28 1087.93,277.60 1093.00,279.60 C1098.07,281.60 1107.08,282.10 1109.90,282.60" fill="none" stroke="#000" stroke-width="2.8" stroke-linejoin="round" stroke-linecap="butt"/>
<path d="M910.80,307.80 C913.62,307.62 922.63,308.55 927.70,306.70 C932.77,304.85 937.55,299.68 941.20,296.70 C944.85,293.72 946.78,290.92 949.60,288.80 C952.42,286.68 955.00,285.15 958.10,284.00 C961.20,282.85 964.83,282.38 968.20,281.90 C971.57,281.42 974.93,281.32 978.30,281.10 C981.67,280.88 985.03,280.33 988.40,280.60 C991.77,280.87 995.12,281.22 998.50,282.70 C1001.88,284.18 1005.32,286.73 1008.70,289.50 C1012.08,292.27 1015.15,296.52 1018.80,299.30 C1022.45,302.08 1025.97,304.78 1030.60,306.20 C1035.23,307.62 1043.93,307.53 1046.60,307.80 L1046.60,308.60 L910.80,308.60 Z" fill="#ea7c61"/>
<line x1="950.9" y1="305.6" x2="950.9" y2="311.4" stroke="#111" stroke-width="1.7" />
<line x1="957.0" y1="305.6" x2="957.0" y2="311.4" stroke="#111" stroke-width="1.7" />
<line x1="958.0" y1="305.6" x2="958.0" y2="311.4" stroke="#111" stroke-width="1.7" />
<line x1="969.2" y1="305.6" x2="969.2" y2="311.4" stroke="#111" stroke-width="1.7" />
<line x1="982.4" y1="305.6" x2="982.4" y2="311.4" stroke="#111" stroke-width="1.7" />
<line x1="987.5" y1="305.6" x2="987.5" y2="311.4" stroke="#111" stroke-width="1.7" />
<line x1="998.7" y1="305.6" x2="998.7" y2="311.4" stroke="#111" stroke-width="1.7" />
<line x1="999.7" y1="305.6" x2="999.7" y2="311.4" stroke="#111" stroke-width="1.7" />
<line x1="1005.8" y1="305.6" x2="1005.8" y2="311.4" stroke="#111" stroke-width="1.7" />
<path d="M910.80,307.80 C913.62,307.62 922.63,308.55 927.70,306.70 C932.77,304.85 937.55,299.68 941.20,296.70 C944.85,293.72 946.78,290.92 949.60,288.80 C952.42,286.68 955.00,285.15 958.10,284.00 C961.20,282.85 964.83,282.38 968.20,281.90 C971.57,281.42 974.93,281.32 978.30,281.10 C981.67,280.88 985.03,280.33 988.40,280.60 C991.77,280.87 995.12,281.22 998.50,282.70 C1001.88,284.18 1005.32,286.73 1008.70,289.50 C1012.08,292.27 1015.15,296.52 1018.80,299.30 C1022.45,302.08 1025.97,304.78 1030.60,306.20 C1035.23,307.62 1043.93,307.53 1046.60,307.80" fill="none" stroke="#000" stroke-width="2.8" stroke-linejoin="round" stroke-linecap="butt"/>
<text x="906.9" y="394.8" font-size="26" textLength="57.5" lengthAdjust="spacingAndGlyphs">RPM</text>
<text x="969.4" y="394.8" font-size="26" textLength="52.4" lengthAdjust="spacingAndGlyphs">(log</text>
<text x="1020.5" y="402.3" font-size="18.5" textLength="21.7" lengthAdjust="spacingAndGlyphs">10</text>
<text x="1044.8" y="394.8" font-size="26" textLength="7.6" lengthAdjust="spacingAndGlyphs">)</text>
<line x1="830.0" y1="411.1" x2="830.0" y2="507.5" stroke="#222" stroke-width="1.5" />
<line x1="829.3" y1="506.8" x2="1130.2" y2="506.8" stroke="#222" stroke-width="1.5" />
<line x1="845.3" y1="506.8" x2="845.3" y2="515.3" stroke="#000" stroke-width="1.4" />
<text x="845.3" y="544.4" font-size="23" text-anchor="middle" >0</text>
<line x1="939.0" y1="506.8" x2="939.0" y2="515.3" stroke="#000" stroke-width="1.4" />
<text x="939.0" y="544.4" font-size="23" text-anchor="middle" >400</text>
<line x1="1032.4" y1="506.8" x2="1032.4" y2="515.3" stroke="#000" stroke-width="1.4" />
<text x="1032.4" y="544.4" font-size="23" text-anchor="middle" >800</text>
<line x1="1126.2" y1="506.8" x2="1126.2" y2="515.3" stroke="#000" stroke-width="1.4" />
<text x="1126.2" y="544.4" font-size="23" text-anchor="middle" >1,200</text>
<text x="731.8" y="442.7" font-size="22" textLength="85.8" lengthAdjust="spacingAndGlyphs">III (NHP)</text>
<text x="738.9" y="469.3" font-size="22" textLength="78.6" lengthAdjust="spacingAndGlyphs">II (NHP)</text>
<text x="750.8" y="498.1" font-size="22" textLength="66.5" lengthAdjust="spacingAndGlyphs">I (MO)</text>
<path d="M852.00,450.20 C855.33,449.87 865.18,449.60 872.00,448.20 C878.82,446.80 887.55,443.28 892.90,441.80 C898.25,440.32 899.57,439.98 904.10,439.30 C908.63,438.62 915.83,438.25 920.10,437.70 C924.37,437.15 925.97,437.35 929.70,436.00 C933.43,434.65 938.23,431.48 942.50,429.60 C946.77,427.72 951.03,425.52 955.30,424.70 C959.57,423.88 964.35,423.88 968.10,424.70 C971.85,425.52 974.32,427.45 977.80,429.60 C981.28,431.75 985.27,435.20 989.00,437.60 C992.73,440.00 996.73,442.27 1000.20,444.00 C1003.67,445.73 1005.40,446.97 1009.80,448.00 C1014.20,449.03 1023.80,449.83 1026.60,450.20 L1026.60,450.80 L852.00,450.80 Z" fill="#3e7eb2"/>
<line x1="891.9" y1="447.8" x2="891.9" y2="453.6" stroke="#111" stroke-width="1.7" />
<line x1="894.9" y1="447.8" x2="894.9" y2="453.6" stroke="#111" stroke-width="1.7" />
<line x1="897.0" y1="447.8" x2="897.0" y2="453.6" stroke="#111" stroke-width="1.7" />
<line x1="899.0" y1="447.8" x2="899.0" y2="453.6" stroke="#111" stroke-width="1.7" />
<line x1="903.1" y1="447.8" x2="903.1" y2="453.6" stroke="#111" stroke-width="1.7" />
<line x1="904.1" y1="447.8" x2="904.1" y2="453.6" stroke="#111" stroke-width="1.7" />
<line x1="908.2" y1="447.8" x2="908.2" y2="453.6" stroke="#111" stroke-width="1.7" />
<line x1="909.2" y1="447.8" x2="909.2" y2="453.6" stroke="#111" stroke-width="1.7" />
<line x1="912.2" y1="447.8" x2="912.2" y2="453.6" stroke="#111" stroke-width="1.7" />
<line x1="915.3" y1="447.8" x2="915.3" y2="453.6" stroke="#111" stroke-width="1.7" />
<line x1="918.3" y1="447.8" x2="918.3" y2="453.6" stroke="#111" stroke-width="1.7" />
<line x1="925.5" y1="447.8" x2="925.5" y2="453.6" stroke="#111" stroke-width="1.7" />
<line x1="927.1" y1="447.8" x2="927.1" y2="453.6" stroke="#111" stroke-width="1.7" />
<line x1="935.0" y1="447.8" x2="935.0" y2="453.6" stroke="#111" stroke-width="1.7" />
<line x1="947.4" y1="447.8" x2="947.4" y2="453.6" stroke="#111" stroke-width="1.7" />
<line x1="948.8" y1="447.8" x2="948.8" y2="453.6" stroke="#111" stroke-width="1.7" />
<line x1="952.9" y1="447.8" x2="952.9" y2="453.6" stroke="#111" stroke-width="1.7" />
<line x1="954.9" y1="447.8" x2="954.9" y2="453.6" stroke="#111" stroke-width="1.7" />
<line x1="956.4" y1="447.8" x2="956.4" y2="453.6" stroke="#111" stroke-width="1.7" />
<line x1="959.0" y1="447.8" x2="959.0" y2="453.6" stroke="#111" stroke-width="1.7" />
<line x1="960.0" y1="447.8" x2="960.0" y2="453.6" stroke="#111" stroke-width="1.7" />
<line x1="961.0" y1="447.8" x2="961.0" y2="453.6" stroke="#111" stroke-width="1.7" />
<line x1="962.1" y1="447.8" x2="962.1" y2="453.6" stroke="#111" stroke-width="1.7" />
<line x1="963.1" y1="447.8" x2="963.1" y2="453.6" stroke="#111" stroke-width="1.7" />
<line x1="964.1" y1="447.8" x2="964.1" y2="453.6" stroke="#111" stroke-width="1.7" />
<line x1="965.1" y1="447.8" x2="965.1" y2="453.6" stroke="#111" stroke-width="1.7" />
<line x1="966.1" y1="447.8" x2="966.1" y2="453.6" stroke="#111" stroke-width="1.7" />
<line x1="967.2" y1="447.8" x2="967.2" y2="453.6" stroke="#111" stroke-width="1.7" />
<line x1="968.2" y1="447.8" x2="968.2" y2="453.6" stroke="#111" stroke-width="1.7" />
<line x1="969.2" y1="447.8" x2="969.2" y2="453.6" stroke="#111" stroke-width="1.7" />
<line x1="971.2" y1="447.8" x2="971.2" y2="453.6" stroke="#111" stroke-width="1.7" />
<line x1="976.3" y1="447.8" x2="976.3" y2="453.6" stroke="#111" stroke-width="1.7" />
<line x1="977.3" y1="447.8" x2="977.3" y2="453.6" stroke="#111" stroke-width="1.7" />
<line x1="978.3" y1="447.8" x2="978.3" y2="453.6" stroke="#111" stroke-width="1.7" />
<line x1="980.4" y1="447.8" x2="980.4" y2="453.6" stroke="#111" stroke-width="1.7" />
<line x1="981.4" y1="447.8" x2="981.4" y2="453.6" stroke="#111" stroke-width="1.7" />
<line x1="982.4" y1="447.8" x2="982.4" y2="453.6" stroke="#111" stroke-width="1.7" />
<path d="M852.00,450.20 C855.33,449.87 865.18,449.60 872.00,448.20 C878.82,446.80 887.55,443.28 892.90,441.80 C898.25,440.32 899.57,439.98 904.10,439.30 C908.63,438.62 915.83,438.25 920.10,437.70 C924.37,437.15 925.97,437.35 929.70,436.00 C933.43,434.65 938.23,431.48 942.50,429.60 C946.77,427.72 951.03,425.52 955.30,424.70 C959.57,423.88 964.35,423.88 968.10,424.70 C971.85,425.52 974.32,427.45 977.80,429.60 C981.28,431.75 985.27,435.20 989.00,437.60 C992.73,440.00 996.73,442.27 1000.20,444.00 C1003.67,445.73 1005.40,446.97 1009.80,448.00 C1014.20,449.03 1023.80,449.83 1026.60,450.20" fill="none" stroke="#000" stroke-width="2.8" stroke-linejoin="round" stroke-linecap="butt"/>
<path d="M848.00,473.80 C850.67,473.58 858.67,473.58 864.00,472.50 C869.33,471.42 875.18,469.23 880.00,467.30 C884.82,465.37 888.88,462.60 892.90,460.90 C896.92,459.20 900.63,457.88 904.10,457.10 C907.57,456.32 909.97,455.92 913.70,456.20 C917.43,456.48 922.23,458.22 926.50,458.80 C930.77,459.38 935.03,459.88 939.30,459.70 C943.57,459.52 948.10,458.23 952.10,457.70 C956.10,457.17 960.37,456.53 963.30,456.50 C966.23,456.47 966.75,456.37 969.70,457.50 C972.65,458.63 976.98,461.40 981.00,463.30 C985.02,465.20 989.53,467.30 993.80,468.90 C998.07,470.50 1001.80,472.08 1006.60,472.90 C1011.40,473.72 1019.93,473.65 1022.60,473.80 L1022.60,474.40 L848.00,474.40 Z" fill="#97ceec"/>
<line x1="893.9" y1="471.4" x2="893.9" y2="477.2" stroke="#111" stroke-width="1.7" />
<line x1="895.3" y1="471.4" x2="895.3" y2="477.2" stroke="#111" stroke-width="1.7" />
<line x1="899.0" y1="471.4" x2="899.0" y2="477.2" stroke="#111" stroke-width="1.7" />
<line x1="902.1" y1="471.4" x2="902.1" y2="477.2" stroke="#111" stroke-width="1.7" />
<line x1="904.1" y1="471.4" x2="904.1" y2="477.2" stroke="#111" stroke-width="1.7" />
<line x1="906.1" y1="471.4" x2="906.1" y2="477.2" stroke="#111" stroke-width="1.7" />
<line x1="912.2" y1="471.4" x2="912.2" y2="477.2" stroke="#111" stroke-width="1.7" />
<line x1="921.0" y1="471.4" x2="921.0" y2="477.2" stroke="#111" stroke-width="1.7" />
<line x1="924.4" y1="471.4" x2="924.4" y2="477.2" stroke="#111" stroke-width="1.7" />
<line x1="926.5" y1="471.4" x2="926.5" y2="477.2" stroke="#111" stroke-width="1.7" />
<line x1="929.5" y1="471.4" x2="929.5" y2="477.2" stroke="#111" stroke-width="1.7" />
<line x1="942.3" y1="471.4" x2="942.3" y2="477.2" stroke="#111" stroke-width="1.7" />
<line x1="959.0" y1="471.4" x2="959.0" y2="477.2" stroke="#111" stroke-width="1.7" />
<line x1="965.1" y1="471.4" x2="965.1" y2="477.2" stroke="#111" stroke-width="1.7" />
<line x1="966.1" y1="471.4" x2="966.1" y2="477.2" stroke="#111" stroke-width="1.7" />
<line x1="967.2" y1="471.4" x2="967.2" y2="477.2" stroke="#111" stroke-width="1.7" />
<line x1="968.2" y1="471.4" x2="968.2" y2="477.2" stroke="#111" stroke-width="1.7" />
<line x1="969.2" y1="471.4" x2="969.2" y2="477.2" stroke="#111" stroke-width="1.7" />
<line x1="970.2" y1="471.4" x2="970.2" y2="477.2" stroke="#111" stroke-width="1.7" />
<line x1="971.2" y1="471.4" x2="971.2" y2="477.2" stroke="#111" stroke-width="1.7" />
<path d="M848.00,473.80 C850.67,473.58 858.67,473.58 864.00,472.50 C869.33,471.42 875.18,469.23 880.00,467.30 C884.82,465.37 888.88,462.60 892.90,460.90 C896.92,459.20 900.63,457.88 904.10,457.10 C907.57,456.32 909.97,455.92 913.70,456.20 C917.43,456.48 922.23,458.22 926.50,458.80 C930.77,459.38 935.03,459.88 939.30,459.70 C943.57,459.52 948.10,458.23 952.10,457.70 C956.10,457.17 960.37,456.53 963.30,456.50 C966.23,456.47 966.75,456.37 969.70,457.50 C972.65,458.63 976.98,461.40 981.00,463.30 C985.02,465.20 989.53,467.30 993.80,468.90 C998.07,470.50 1001.80,472.08 1006.60,472.90 C1011.40,473.72 1019.93,473.65 1022.60,473.80" fill="none" stroke="#000" stroke-width="2.8" stroke-linejoin="round" stroke-linecap="butt"/>
<path d="M877.60,498.50 C880.68,498.23 890.88,497.70 896.10,496.90 C901.32,496.10 904.90,494.73 908.90,493.70 C912.90,492.67 916.10,491.33 920.10,490.70 C924.10,490.07 928.63,489.93 932.90,489.90 C937.17,489.87 940.90,490.35 945.70,490.50 C950.50,490.65 956.62,491.02 961.70,490.80 C966.78,490.58 971.12,489.73 976.20,489.20 C981.28,488.67 986.87,488.13 992.20,487.60 C997.53,487.07 1002.87,486.53 1008.20,486.00 C1013.53,485.47 1018.87,484.75 1024.20,484.40 C1029.53,484.05 1035.40,483.93 1040.20,483.90 C1045.00,483.87 1048.98,483.77 1053.00,484.20 C1057.02,484.63 1060.55,485.45 1064.30,486.50 C1068.05,487.55 1071.50,489.03 1075.50,490.50 C1079.50,491.97 1084.83,494.10 1088.30,495.30 C1091.77,496.50 1092.57,497.17 1096.30,497.70 C1100.03,498.23 1108.30,498.37 1110.70,498.50 L1110.70,499.10 L877.60,499.10 Z" fill="#ea7c61"/>
<line x1="922.4" y1="496.1" x2="922.4" y2="501.9" stroke="#111" stroke-width="1.7" />
<line x1="935.6" y1="496.1" x2="935.6" y2="501.9" stroke="#111" stroke-width="1.7" />
<line x1="970.6" y1="496.1" x2="970.6" y2="501.9" stroke="#111" stroke-width="1.7" />
<line x1="988.5" y1="496.1" x2="988.5" y2="501.9" stroke="#111" stroke-width="1.7" />
<line x1="1016.6" y1="496.1" x2="1016.6" y2="501.9" stroke="#111" stroke-width="1.7" />
<line x1="1021.1" y1="496.1" x2="1021.1" y2="501.9" stroke="#111" stroke-width="1.7" />
<line x1="1022.5" y1="496.1" x2="1022.5" y2="501.9" stroke="#111" stroke-width="1.7" />
<line x1="1047.9" y1="496.1" x2="1047.9" y2="501.9" stroke="#111" stroke-width="1.7" />
<line x1="1048.9" y1="496.1" x2="1048.9" y2="501.9" stroke="#111" stroke-width="1.7" />
<line x1="1049.9" y1="496.1" x2="1049.9" y2="501.9" stroke="#111" stroke-width="1.7" />
<line x1="1066.4" y1="496.1" x2="1066.4" y2="501.9" stroke="#111" stroke-width="1.7" />
<path d="M877.60,498.50 C880.68,498.23 890.88,497.70 896.10,496.90 C901.32,496.10 904.90,494.73 908.90,493.70 C912.90,492.67 916.10,491.33 920.10,490.70 C924.10,490.07 928.63,489.93 932.90,489.90 C937.17,489.87 940.90,490.35 945.70,490.50 C950.50,490.65 956.62,491.02 961.70,490.80 C966.78,490.58 971.12,489.73 976.20,489.20 C981.28,488.67 986.87,488.13 992.20,487.60 C997.53,487.07 1002.87,486.53 1008.20,486.00 C1013.53,485.47 1018.87,484.75 1024.20,484.40 C1029.53,484.05 1035.40,483.93 1040.20,483.90 C1045.00,483.87 1048.98,483.77 1053.00,484.20 C1057.02,484.63 1060.55,485.45 1064.30,486.50 C1068.05,487.55 1071.50,489.03 1075.50,490.50 C1079.50,491.97 1084.83,494.10 1088.30,495.30 C1091.77,496.50 1092.57,497.17 1096.30,497.70 C1100.03,498.23 1108.30,498.37 1110.70,498.50" fill="none" stroke="#000" stroke-width="2.8" stroke-linejoin="round" stroke-linecap="butt"/>
<text x="956.8" y="583.8" font-size="26" textLength="19.4" lengthAdjust="spacingAndGlyphs">N</text>
<text x="977.8" y="591.7" font-size="19" textLength="23.8" lengthAdjust="spacingAndGlyphs">50</text>
<rect x="958.6" y="447.6" width="14.2" height="7.8" fill="#111"/>
<rect x="975.0" y="448.2" width="7.4" height="4.6" fill="#111"/>
<rect x="964.3" y="472.2" width="7.8" height="5.4" fill="#111"/>
<line x1="1284.5" y1="150.9" x2="1284.5" y2="507.6" stroke="#000" stroke-width="1.4" />
<line x1="1283.8" y1="506.9" x2="1612.8" y2="506.9" stroke="#000" stroke-width="1.4" />
<line x1="1277.2" y1="498.9" x2="1284.5" y2="498.9" stroke="#000" stroke-width="1.4" />
<text x="1264.6" y="509.3" font-size="23.5" text-anchor="end" >0</text>
<line x1="1277.2" y1="408.4" x2="1284.5" y2="408.4" stroke="#000" stroke-width="1.4" />
<text x="1264.6" y="418.8" font-size="23.5" text-anchor="end" textLength="31.6" lengthAdjust="spacingAndGlyphs" >0.1</text>
<line x1="1277.2" y1="317.9" x2="1284.5" y2="317.9" stroke="#000" stroke-width="1.4" />
<text x="1264.6" y="328.3" font-size="23.5" text-anchor="end" textLength="35.0" lengthAdjust="spacingAndGlyphs" >0.2</text>
<line x1="1277.2" y1="227.4" x2="1284.5" y2="227.4" stroke="#000" stroke-width="1.4" />
<text x="1264.6" y="237.8" font-size="23.5" text-anchor="end" textLength="35.5" lengthAdjust="spacingAndGlyphs" >0.3</text>
<line x1="1301.5" y1="506.9" x2="1301.5" y2="514.2" stroke="#000" stroke-width="1.4" />
<text x="1301.5" y="545.0" font-size="23.5" text-anchor="middle" >0</text>
<line x1="1342.1" y1="506.9" x2="1342.1" y2="514.2" stroke="#000" stroke-width="1.4" />
<text x="1342.1" y="545.0" font-size="23.5" text-anchor="middle" >2</text>
<line x1="1382.7" y1="506.9" x2="1382.7" y2="514.2" stroke="#000" stroke-width="1.4" />
<text x="1382.7" y="545.0" font-size="23.5" text-anchor="middle" >4</text>
<line x1="1423.3" y1="506.9" x2="1423.3" y2="514.2" stroke="#000" stroke-width="1.4" />
<text x="1423.3" y="545.0" font-size="23.5" text-anchor="middle" >6</text>
<line x1="1463.9" y1="506.9" x2="1463.9" y2="514.2" stroke="#000" stroke-width="1.4" />
<text x="1463.9" y="545.0" font-size="23.5" text-anchor="middle" >8</text>
<line x1="1504.5" y1="506.9" x2="1504.5" y2="514.2" stroke="#000" stroke-width="1.4" />
<text x="1504.5" y="545.0" font-size="23.5" text-anchor="middle" >10</text>
<line x1="1545.1" y1="506.9" x2="1545.1" y2="514.2" stroke="#000" stroke-width="1.4" />
<text x="1545.1" y="545.0" font-size="23.5" text-anchor="middle" >12</text>
<line x1="1585.7" y1="506.9" x2="1585.7" y2="514.2" stroke="#000" stroke-width="1.4" />
<text x="1585.7" y="545.0" font-size="23.5" text-anchor="middle" >14</text>
<rect x="1294.40" y="159.16" width="14.2" height="339.74" fill="#48a121" stroke="#000" stroke-width="1.35"/>
<rect x="1314.70" y="485.23" width="14.2" height="13.67" fill="#48a121" stroke="#000" stroke-width="1.35"/>
<rect x="1335.00" y="471.21" width="14.2" height="27.69" fill="#48a121" stroke="#000" stroke-width="1.35"/>
<rect x="1355.30" y="343.24" width="14.2" height="155.66" fill="#9468c9" stroke="#000" stroke-width="1.35"/>
<rect x="1375.60" y="456.55" width="14.2" height="42.35" fill="#9468c9" stroke="#000" stroke-width="1.35"/>
<rect x="1395.90" y="414.10" width="14.2" height="84.80" fill="#9468c9" stroke="#000" stroke-width="1.35"/>
<rect x="1416.20" y="357.72" width="14.2" height="141.18" fill="#9468c9" stroke="#000" stroke-width="1.35"/>
<rect x="1436.50" y="428.49" width="14.2" height="70.41" fill="#9468c9" stroke="#000" stroke-width="1.35"/>
<rect x="1497.40" y="470.84" width="14.2" height="28.06" fill="#9468c9" stroke="#000" stroke-width="1.35"/>
<polyline points="1313.9,206.5 1333.9,404.9 1353.6,413.7 1372.3,400.6 1392.1,402.2 1409.8,414.7 1418.6,424.1 1427.8,436.2 1437.1,447.3 1450.1,460.3 1468.6,473.3 1489.1,484.4 1511.3,490.9 1529.9,494.6 1557.7,496.8 1585.5,498.3 1605.9,498.9" fill="none" stroke="#000" stroke-width="2.5" stroke-linejoin="round"/>
<text x="-493.6" y="1209.8" font-size="27" transform="rotate(-90)" textLength="249.1" lengthAdjust="spacingAndGlyphs">Density/normalized</text>
<text x="-239.6" y="1209.8" font-size="27" transform="rotate(-90)" textLength="74.0" lengthAdjust="spacingAndGlyphs">count</text>
<text x="1254.6" y="583.7" font-size="26" textLength="61.3" lengthAdjust="spacingAndGlyphs">Days</text>
<text x="1323.3" y="583.7" font-size="26" textLength="60.8" lengthAdjust="spacingAndGlyphs">from</text>
<text x="1390.4" y="583.7" font-size="26" textLength="73.7" lengthAdjust="spacingAndGlyphs">death</text>
<text x="1471.3" y="583.7" font-size="26" textLength="26.2" lengthAdjust="spacingAndGlyphs">to</text>
<text x="1503.6" y="583.7" font-size="26" textLength="150.6" lengthAdjust="spacingAndGlyphs">observation</text>
<text x="1342.6" y="72.6" font-size="21.5" textLength="163.4" lengthAdjust="spacingAndGlyphs">Decomposition</text>
<text x="1362.0" y="100.4" font-size="21.5" textLength="59.0" lengthAdjust="spacingAndGlyphs">stage</text>
<text x="1426.5" y="100.4" font-size="21.5" textLength="79.2" lengthAdjust="spacingAndGlyphs">(NHPs):</text>
<rect x="1523.8" y="68.9" width="23.2" height="23.2" fill="#48a121" stroke="#000" stroke-width="1.4"/>
<text x="1560.8" y="87.0" font-size="22.5" textLength="125.4" lengthAdjust="spacingAndGlyphs">Intact/Alive</text>
<rect x="1726.7" y="68.9" width="23.2" height="23.2" fill="#9468c9" stroke="#000" stroke-width="1.4"/>
<text x="1764.1" y="87.0" font-size="22.5" textLength="206.9" lengthAdjust="spacingAndGlyphs">Medium/Advanced</text>
<rect x="2010.0" y="68.9" width="23.2" height="23.2" fill="#dcdcdc" stroke="#000" stroke-width="1.4"/>
<text x="2046.7" y="87.0" font-size="22.5" textLength="103.3" lengthAdjust="spacingAndGlyphs">Unknown</text>
<rect x="1782.20" y="171.00" width="4.41" height="336.00" fill="#48a121" stroke="#333" stroke-width="0.8"/>
<rect x="1786.61" y="171.00" width="4.41" height="336.00" fill="#48a121" stroke="#333" stroke-width="0.8"/>
<rect x="1791.02" y="171.00" width="4.41" height="336.00" fill="#48a121" stroke="#333" stroke-width="0.8"/>
<rect x="1795.43" y="171.00" width="4.41" height="336.00" fill="#48a121" stroke="#333" stroke-width="0.8"/>
<rect x="1799.84" y="171.00" width="4.41" height="336.00" fill="#48a121" stroke="#333" stroke-width="0.8"/>
<rect x="1804.25" y="171.00" width="4.41" height="336.00" fill="#48a121" stroke="#333" stroke-width="0.8"/>
<rect x="1808.66" y="171.00" width="4.41" height="336.00" fill="#48a121" stroke="#333" stroke-width="0.8"/>
<rect x="1813.07" y="171.00" width="4.41" height="336.00" fill="#48a121" stroke="#333" stroke-width="0.8"/>
<rect x="1817.48" y="171.00" width="4.41" height="336.00" fill="#48a121" stroke="#333" stroke-width="0.8"/>
<rect x="1821.89" y="171.00" width="4.41" height="336.00" fill="#48a121" stroke="#333" stroke-width="0.8"/>
<rect x="1826.30" y="171.00" width="4.41" height="336.00" fill="#48a121" stroke="#333" stroke-width="0.8"/>
<rect x="1830.71" y="171.00" width="4.41" height="336.00" fill="#48a121" stroke="#333" stroke-width="0.8"/>
<rect x="1835.12" y="171.00" width="4.41" height="336.00" fill="#48a121" stroke="#333" stroke-width="0.8"/>
<rect x="1839.53" y="171.00" width="4.41" height="336.00" fill="#48a121" stroke="#333" stroke-width="0.8"/>
<rect x="1843.94" y="171.00" width="4.41" height="336.00" fill="#48a121" stroke="#333" stroke-width="0.8"/>
<rect x="1848.35" y="171.00" width="4.41" height="336.00" fill="#48a121" stroke="#333" stroke-width="0.8"/>
<rect x="1852.76" y="171.00" width="4.41" height="336.00" fill="#48a121" stroke="#333" stroke-width="0.8"/>
<rect x="1857.17" y="171.00" width="4.41" height="336.00" fill="#48a121" stroke="#333" stroke-width="0.8"/>
<rect x="1861.58" y="171.00" width="4.41" height="336.00" fill="#48a121" stroke="#333" stroke-width="0.8"/>
<rect x="1865.99" y="171.00" width="4.41" height="336.00" fill="#48a121" stroke="#333" stroke-width="0.8"/>
<rect x="1870.40" y="171.00" width="4.41" height="336.00" fill="#48a121" stroke="#333" stroke-width="0.8"/>
<rect x="1874.81" y="171.00" width="4.41" height="336.00" fill="#48a121" stroke="#333" stroke-width="0.8"/>
<rect x="1879.22" y="171.00" width="4.41" height="336.00" fill="#48a121" stroke="#333" stroke-width="0.8"/>
<rect x="1883.63" y="171.00" width="4.41" height="336.00" fill="#48a121" stroke="#333" stroke-width="0.8"/>
<rect x="1888.04" y="171.00" width="4.41" height="336.00" fill="#48a121" stroke="#333" stroke-width="0.8"/>
<rect x="1892.45" y="171.00" width="4.41" height="336.00" fill="#48a121" stroke="#333" stroke-width="0.8"/>
<rect x="1896.86" y="171.00" width="4.41" height="336.00" fill="#48a121" stroke="#333" stroke-width="0.8"/>
<rect x="1901.27" y="171.00" width="4.41" height="336.00" fill="#48a121" stroke="#333" stroke-width="0.8"/>
<rect x="1905.68" y="176.71" width="4.41" height="330.29" fill="#48a121" stroke="#333" stroke-width="0.8"/>
<rect x="1910.09" y="176.71" width="4.41" height="330.29" fill="#48a121" stroke="#333" stroke-width="0.8"/>
<rect x="1914.50" y="263.06" width="4.41" height="243.94" fill="#48a121" stroke="#333" stroke-width="0.8"/>
<rect x="1918.91" y="263.06" width="4.41" height="243.94" fill="#48a121" stroke="#333" stroke-width="0.8"/>
<rect x="1923.32" y="382.01" width="4.41" height="124.99" fill="#48a121" stroke="#333" stroke-width="0.8"/>
<rect x="1927.73" y="414.26" width="4.41" height="92.74" fill="#48a121" stroke="#333" stroke-width="0.8"/>
<rect x="1932.14" y="171.00" width="4.41" height="336.00" fill="#9468c9" stroke="#333" stroke-width="0.8"/>
<rect x="1936.55" y="171.00" width="4.41" height="336.00" fill="#9468c9" stroke="#333" stroke-width="0.8"/>
<rect x="1940.96" y="171.00" width="4.41" height="336.00" fill="#9468c9" stroke="#333" stroke-width="0.8"/>
<rect x="1945.37" y="171.00" width="4.41" height="336.00" fill="#9468c9" stroke="#333" stroke-width="0.8"/>
<rect x="1949.78" y="171.00" width="4.41" height="336.00" fill="#9468c9" stroke="#333" stroke-width="0.8"/>
<rect x="1954.19" y="171.00" width="4.41" height="336.00" fill="#9468c9" stroke="#333" stroke-width="0.8"/>
<rect x="1958.60" y="171.00" width="4.41" height="336.00" fill="#9468c9" stroke="#333" stroke-width="0.8"/>
<rect x="1963.01" y="171.00" width="4.41" height="336.00" fill="#9468c9" stroke="#333" stroke-width="0.8"/>
<rect x="1967.42" y="176.38" width="4.41" height="330.62" fill="#9468c9" stroke="#333" stroke-width="0.8"/>
<rect x="1971.83" y="220.06" width="4.41" height="286.94" fill="#9468c9" stroke="#333" stroke-width="0.8"/>
<rect x="1976.24" y="452.57" width="4.41" height="54.43" fill="#9468c9" stroke="#333" stroke-width="0.8"/>
<rect x="1980.65" y="503.30" width="4.41" height="3.70" fill="#9468c9" stroke="#333" stroke-width="0.8"/>
<rect x="1985.06" y="171.00" width="4.41" height="336.00" fill="#dcdcdc" stroke="#555" stroke-width="0.8"/>
<rect x="1989.47" y="171.00" width="4.41" height="336.00" fill="#dcdcdc" stroke="#555" stroke-width="0.8"/>
<rect x="1993.88" y="171.00" width="4.41" height="336.00" fill="#dcdcdc" stroke="#555" stroke-width="0.8"/>
<rect x="1998.29" y="171.00" width="4.41" height="336.00" fill="#dcdcdc" stroke="#555" stroke-width="0.8"/>
<rect x="2002.70" y="171.00" width="4.41" height="336.00" fill="#dcdcdc" stroke="#555" stroke-width="0.8"/>
<rect x="2007.11" y="171.00" width="4.41" height="336.00" fill="#dcdcdc" stroke="#555" stroke-width="0.8"/>
<rect x="2011.52" y="171.00" width="4.41" height="336.00" fill="#dcdcdc" stroke="#555" stroke-width="0.8"/>
<rect x="2015.93" y="171.00" width="4.41" height="336.00" fill="#dcdcdc" stroke="#555" stroke-width="0.8"/>
<rect x="2020.34" y="171.00" width="4.41" height="336.00" fill="#dcdcdc" stroke="#555" stroke-width="0.8"/>
<rect x="2024.75" y="171.00" width="4.41" height="336.00" fill="#dcdcdc" stroke="#555" stroke-width="0.8"/>
<rect x="2029.16" y="171.00" width="4.41" height="336.00" fill="#dcdcdc" stroke="#555" stroke-width="0.8"/>
<rect x="2033.57" y="171.00" width="4.41" height="336.00" fill="#dcdcdc" stroke="#555" stroke-width="0.8"/>
<rect x="2037.98" y="171.00" width="4.41" height="336.00" fill="#dcdcdc" stroke="#555" stroke-width="0.8"/>
<rect x="2042.39" y="171.00" width="4.41" height="336.00" fill="#dcdcdc" stroke="#555" stroke-width="0.8"/>
<rect x="2046.80" y="171.00" width="4.41" height="336.00" fill="#dcdcdc" stroke="#555" stroke-width="0.8"/>
<rect x="2051.21" y="171.00" width="4.41" height="336.00" fill="#dcdcdc" stroke="#555" stroke-width="0.8"/>
<rect x="2055.62" y="171.00" width="4.41" height="336.00" fill="#dcdcdc" stroke="#555" stroke-width="0.8"/>
<rect x="2060.03" y="171.00" width="4.41" height="336.00" fill="#dcdcdc" stroke="#555" stroke-width="0.8"/>
<rect x="2064.44" y="171.00" width="4.41" height="336.00" fill="#dcdcdc" stroke="#555" stroke-width="0.8"/>
<rect x="2068.85" y="171.00" width="4.41" height="336.00" fill="#dcdcdc" stroke="#555" stroke-width="0.8"/>
<rect x="2073.26" y="171.00" width="4.41" height="336.00" fill="#dcdcdc" stroke="#555" stroke-width="0.8"/>
<rect x="2077.67" y="171.00" width="4.41" height="336.00" fill="#dcdcdc" stroke="#555" stroke-width="0.8"/>
<rect x="2082.08" y="171.00" width="4.41" height="336.00" fill="#dcdcdc" stroke="#555" stroke-width="0.8"/>
<rect x="2086.49" y="171.00" width="4.41" height="336.00" fill="#dcdcdc" stroke="#555" stroke-width="0.8"/>
<rect x="2090.90" y="171.00" width="4.41" height="336.00" fill="#dcdcdc" stroke="#555" stroke-width="0.8"/>
<rect x="2095.31" y="171.00" width="4.41" height="336.00" fill="#dcdcdc" stroke="#555" stroke-width="0.8"/>
<rect x="2099.72" y="171.00" width="4.41" height="336.00" fill="#dcdcdc" stroke="#555" stroke-width="0.8"/>
<rect x="2104.13" y="171.00" width="4.41" height="336.00" fill="#dcdcdc" stroke="#555" stroke-width="0.8"/>
<rect x="2108.54" y="171.00" width="4.41" height="336.00" fill="#dcdcdc" stroke="#555" stroke-width="0.8"/>
<rect x="2112.95" y="171.00" width="4.41" height="336.00" fill="#dcdcdc" stroke="#555" stroke-width="0.8"/>
<rect x="2117.36" y="171.00" width="4.41" height="336.00" fill="#dcdcdc" stroke="#555" stroke-width="0.8"/>
<rect x="2121.77" y="171.00" width="4.41" height="336.00" fill="#dcdcdc" stroke="#555" stroke-width="0.8"/>
<rect x="2126.18" y="171.00" width="4.41" height="336.00" fill="#dcdcdc" stroke="#555" stroke-width="0.8"/>
<rect x="2130.59" y="172.01" width="4.41" height="334.99" fill="#dcdcdc" stroke="#555" stroke-width="0.8"/>
<rect x="2135.00" y="177.72" width="4.41" height="329.28" fill="#dcdcdc" stroke="#555" stroke-width="0.8"/>
<rect x="2139.41" y="180.07" width="4.41" height="326.93" fill="#dcdcdc" stroke="#555" stroke-width="0.8"/>
<rect x="2143.82" y="184.44" width="4.41" height="322.56" fill="#dcdcdc" stroke="#555" stroke-width="0.8"/>
<rect x="2148.23" y="206.28" width="4.41" height="300.72" fill="#dcdcdc" stroke="#555" stroke-width="0.8"/>
<rect x="2152.64" y="446.52" width="4.41" height="60.48" fill="#dcdcdc" stroke="#555" stroke-width="0.8"/>
<line x1="1781.5" y1="507.1" x2="2162.0" y2="507.1" stroke="#000" stroke-width="1.6" />
<line x1="1771.0" y1="507.0" x2="1779.5" y2="507.0" stroke="#000" stroke-width="1.4" />
<text x="1758.7" y="516.6" font-size="23.5" text-anchor="end" >0</text>
<line x1="1771.0" y1="423.0" x2="1779.5" y2="423.0" stroke="#000" stroke-width="1.4" />
<text x="1758.7" y="432.6" font-size="23.5" text-anchor="end" >25</text>
<line x1="1771.0" y1="339.0" x2="1779.5" y2="339.0" stroke="#000" stroke-width="1.4" />
<text x="1758.7" y="348.6" font-size="23.5" text-anchor="end" >50</text>
<line x1="1771.0" y1="255.0" x2="1779.5" y2="255.0" stroke="#000" stroke-width="1.4" />
<text x="1758.7" y="264.6" font-size="23.5" text-anchor="end" >75</text>
<line x1="1771.0" y1="171.0" x2="1779.5" y2="171.0" stroke="#000" stroke-width="1.4" />
<text x="1758.7" y="180.6" font-size="23.5" text-anchor="end" >100</text>
<line x1="1780.0" y1="271.4" x2="2163.0" y2="271.4" stroke="#e00000" stroke-width="2.4" stroke-dasharray="3.8 3.8" stroke-linecap="butt"/>
<text x="-506.8" y="1699.6" font-size="27" transform="rotate(-90)" textLength="49.5" lengthAdjust="spacingAndGlyphs">YFV</text>
<text x="-452.6" y="1699.6" font-size="27" transform="rotate(-90)" textLength="110.5" lengthAdjust="spacingAndGlyphs">genome</text>
<text x="-335.8" y="1699.6" font-size="27" transform="rotate(-90)" textLength="122.6" lengthAdjust="spacingAndGlyphs">coverage</text>
<text x="-207.0" y="1699.6" font-size="27" transform="rotate(-90)" textLength="38.1" lengthAdjust="spacingAndGlyphs">(%)</text>
<text x="1875.5" y="542.7" font-size="26" textLength="116.0" lengthAdjust="spacingAndGlyphs">Sampled</text>
<text x="1998.6" y="542.7" font-size="26" textLength="70.1" lengthAdjust="spacingAndGlyphs">NHPs</text>
</svg>
</body></html>
